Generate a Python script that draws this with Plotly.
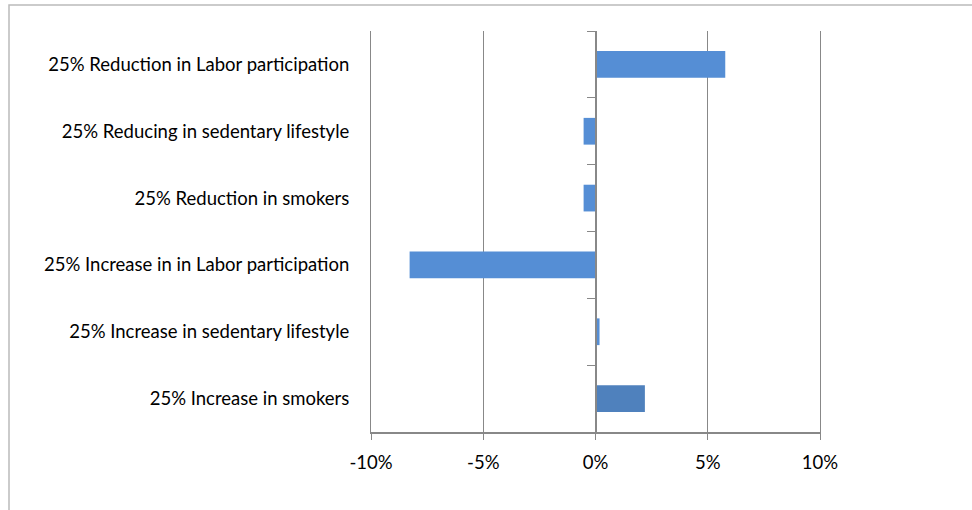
import plotly.graph_objects as go

categories = [
    "25% Increase in smokers",
    "25% Increase in sedentary lifestyle",
    "25% Increase in in Labor participation",
    "25% Reduction in smokers",
    "25% Reducing in sedentary lifestyle",
    "25% Reduction in Labor participation",
]
values = [0.022, 0.0018, -0.0828, -0.0053, -0.0053, 0.0578]
bar_colors = ["#4F81BD", "#558ED5", "#558ED5", "#558ED5", "#558ED5", "#558ED5"]
x_ticks = [-0.10, -0.05, 0.0, 0.05, 0.10]
x_tick_labels = ["-10%", "-5%", "0%", "5%", "10%"]

W, H = 972, 510
L, R, T, B = 371, 152, 31, 78
x_range = [-0.10, 0.10]
font = dict(family="Lato, 'Open Sans', sans-serif", size=18.5, color="#000000")

fig = go.Figure()
fig.add_trace(go.Bar(
    y=categories, x=values, orientation="h",
    marker=dict(color=bar_colors, line=dict(width=0)),
    width=0.4, hoverinfo="skip", yaxis="y",
))
# invisible trace carrying the category axis drawn at x=0
fig.add_trace(go.Scatter(
    y=categories, x=[0] * len(categories), mode="markers",
    marker=dict(opacity=0), hoverinfo="skip", yaxis="y2", showlegend=False,
))

zero_pos = (0 - x_range[0]) / (x_range[1] - x_range[0])

fig.update_layout(
    width=W, height=H,
    margin=dict(l=L, r=R, t=T, b=B, pad=0),
    paper_bgcolor="white", plot_bgcolor="white",
    showlegend=False,
    font=font,
    xaxis=dict(
        range=x_range, tickvals=x_ticks, ticktext=x_tick_labels,
        showgrid=True, gridcolor="#888888", gridwidth=1,
        zeroline=False, showline=True, linecolor="#888888", linewidth=2,
        ticks="outside", ticklen=6, tickcolor="#888888", tickwidth=1,
        ticklabelstandoff=7, tickfont=font,
    ),
    yaxis=dict(
        type="category", categoryorder="array", categoryarray=categories,
        range=[-0.5, len(categories) - 0.5],
        showgrid=False, zeroline=False, ticks="",
        showline=True, mirror=True, linecolor="#888888", linewidth=1,
        ticklabelstandoff=17, tickfont=font,
    ),
    yaxis2=dict(
        type="category", categoryorder="array", categoryarray=categories,
        range=[-0.5, len(categories) - 0.5],
        overlaying="y", anchor="free", position=zero_pos, side="left",
        showgrid=False, zeroline=False, showticklabels=False,
        showline=True, linecolor="#888888", linewidth=2,
        ticks="outside", tickson="boundaries", ticklen=8,
        tickcolor="#888888", tickwidth=1,
    ),
    shapes=[dict(
        type="rect", xref="paper", yref="paper",
        x0=(9 - L) / (W - L - R), x1=(990 - L) / (W - L - R),
        y0=-(530 - (H - B)) / (H - T - B), y1=1 + (T - 5) / (H - T - B),
        line=dict(color="#BBBBBB", width=1.5), fillcolor="rgba(0,0,0,0)",
        layer="below",
    )],
    bargap=0.6,
)

fig.write_html("out.html")
